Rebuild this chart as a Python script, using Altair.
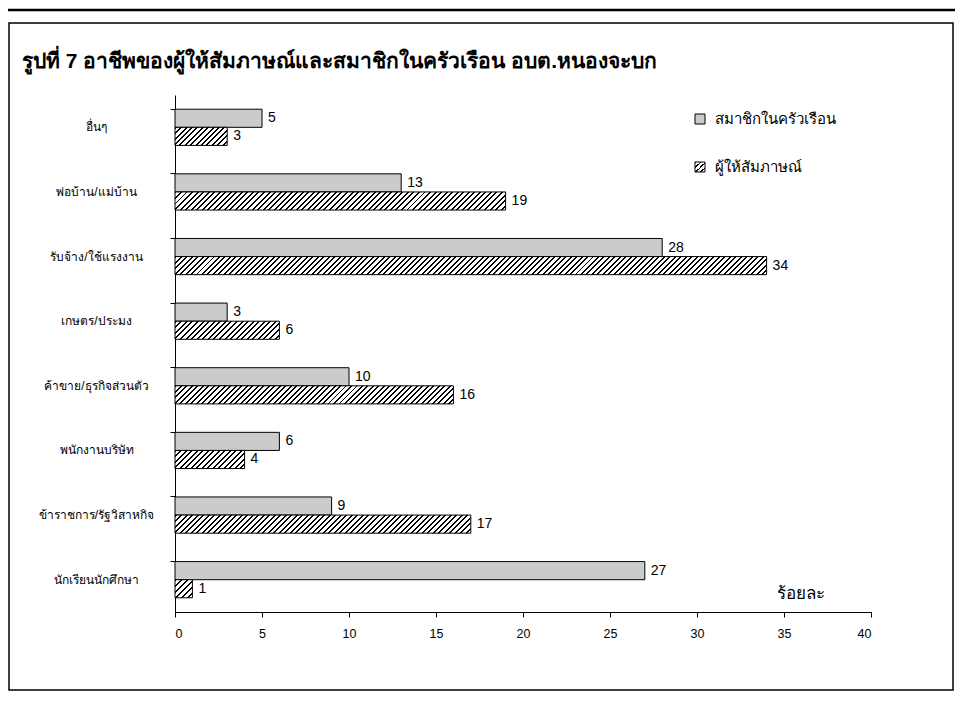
import altair as alt
import pandas as pd

# ---- data ----
categories = ["อื่นๆ", "พ่อบ้าน/แม่บ้าน", "รับจ้าง/ใช้แรงงาน", "เกษตร/ประมง",
              "ค้าขาย/ธุรกิจส่วนตัว", "พนักงานบริษัท", "ข้าราชการ/รัฐวิสาหกิจ", "นักเรียนนักศึกษา"]
series = ["สมาชิกในครัวเรือน", "ผู้ให้สัมภาษณ์"]
household = [5, 13, 28, 3, 10, 6, 9, 27]
interviewee = [3, 19, 34, 6, 16, 4, 17, 1]
x_ticks = [0, 5, 10, 15, 20, 25, 30, 35, 40]
title_text = "รูปที่ 7  อาชีพของผู้ให้สัมภาษณ์และสมาชิกในครัวเรือน อบต.หนองจะบก"
x_title = "ร้อยละ"

rows = []
for c, a, b in zip(categories, household, interviewee):
    rows.append({"category": c, "series": series[0], "value": a})
    rows.append({"category": c, "series": series[1], "value": b})
df = pd.DataFrame(rows)

# ---- layout ----
W, H = 696, 517
XMAX = 40
PX = W / XMAX
BAR_H = H / len(categories) * (1 - 0.44) / 2
FONT = "Liberation Sans"
DOT_FILL = "#cbcbcb"


def hatch(w, h, period=5.5, ink=0.36):
    """Diagonal '/' hatch built from a linear gradient in bbox units."""
    n = max(1, round((w + h) / period))
    k = (w + h) / (w * w + h * h)
    stops = []
    for i in range(n):
        a = i / n
        m = (i + ink) / n
        c = (i + 1) / n
        stops += [{"offset": a, "color": "white"},
                  {"offset": a, "color": "black"},
                  {"offset": m, "color": "black"},
                  {"offset": m, "color": "white"},
                  {"offset": c, "color": "white"}]
    return {"gradient": "linear", "x1": 0, "y1": 0, "x2": k * w, "y2": k * h,
            "stops": stops}


conds = [
    {"test": f"datum.series === '{series[1]}' && datum.category === '{cat}'",
     "value": hatch(v * PX, BAR_H)}
    for cat, v in zip(categories, interviewee)
]
fill_enc = {"condition": conds, "value": DOT_FILL}

y_enc = alt.Y("category:N", sort=categories,
              scale=alt.Scale(paddingInner=0.44, paddingOuter=0.22),
              axis=alt.Axis(title=None, labelAlign="center", labelPadding=74,
                            labelFont=FONT, labelFontSize=12, labelColor="black",
                            tickSize=5, tickColor="black", domainColor="black",
                            bandPosition=0, labelLimit=300))
yoff = alt.YOffset("series:N", sort=series,
                   scale=alt.Scale(paddingInner=0, paddingOuter=0))
x_enc = alt.X("value:Q", scale=alt.Scale(domain=[0, XMAX], nice=False),
              axis=alt.Axis(values=x_ticks, grid=False, tickSize=5,
                            tickColor="black", domainColor="black",
                            labelFont=FONT, labelFontSize=12.5, labelColor="black",
                            labelPadding=10, title=x_title, titleFont=FONT,
                            titleFontSize=17, titleFontWeight="normal",
                            titleColor="black", titleX=625, titleY=-19,
                            titleAlign="center", titleBaseline="middle",
                            titleAngle=0))

bars = alt.Chart(df).mark_bar(stroke="black", strokeWidth=1).encode(
    x=x_enc, y=y_enc, yOffset=yoff, fill=fill_enc
)
labels = alt.Chart(df).mark_text(align="left", baseline="middle", dx=6,
                                 font=FONT, fontSize=14, color="black").encode(
    x="value:Q", y=alt.Y("category:N", sort=categories), yOffset=yoff,
    text="value:Q"
)

one = alt.Data(values=[{}])
frame = alt.Chart(one).mark_rect(fill=None, stroke="black", strokeWidth=1.5).encode(
    x=alt.value(-166), x2=alt.value(778), y=alt.value(-72), y2=alt.value(595)
)
page_top = alt.Chart(one).mark_rule(color="black", strokeWidth=2.5).encode(
    x=alt.value(-167), x2=alt.value(780), y=alt.value(-85)
)
title = alt.Chart(one).mark_text(align="left", baseline="alphabetic", font=FONT,
                                 fontSize=21, fontWeight="bold", color="black").encode(
    x=alt.value(-153), y=alt.value(-27), text=alt.value(title_text)
)
leg_sq1 = alt.Chart(one).mark_rect(fill=DOT_FILL, stroke="black", strokeWidth=1).encode(
    x=alt.value(520), x2=alt.value(530), y=alt.value(19), y2=alt.value(29)
)
leg_sq2 = alt.Chart(one).mark_rect(fill=hatch(10, 10, 4.5), stroke="black", strokeWidth=1).encode(
    x=alt.value(520), x2=alt.value(530), y=alt.value(67), y2=alt.value(77)
)
leg_t1 = alt.Chart(one).mark_text(align="left", baseline="middle", font=FONT,
                                  fontSize=15, color="black").encode(
    x=alt.value(540), y=alt.value(24), text=alt.value(series[0])
)
leg_t2 = alt.Chart(one).mark_text(align="left", baseline="middle", font=FONT,
                                  fontSize=15, color="black").encode(
    x=alt.value(540), y=alt.value(72), text=alt.value(series[1])
)

chart = alt.layer(bars, labels, frame, page_top, title,
                  leg_sq1, leg_sq2, leg_t1, leg_t2).properties(
    width=W, height=H,
    autosize=alt.AutoSizeParams(type="none"),
    padding={"left": 167, "top": 87, "right": 84, "bottom": 96},
    background="white",
).configure_view(stroke=None)

chart.save("out.html", embed_options={"renderer": "svg", "actions": False})
